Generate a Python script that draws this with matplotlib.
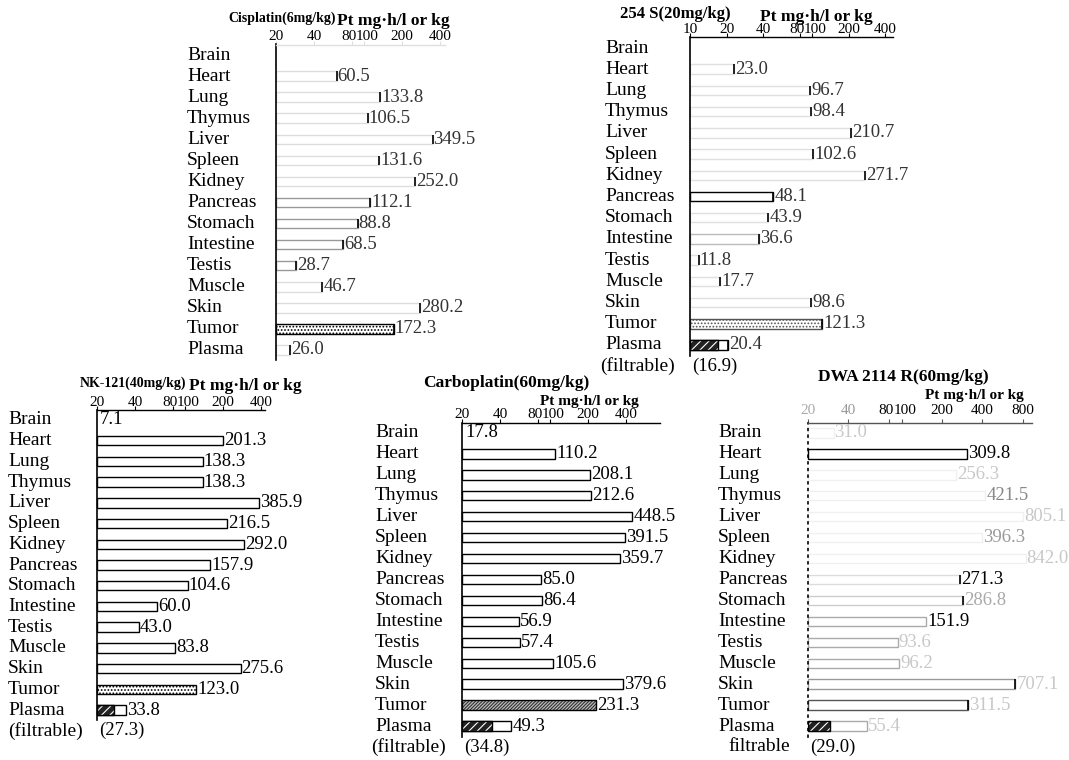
import numpy as np
import matplotlib
matplotlib.use("Agg")
import matplotlib.pyplot as plt

plt.rcParams['font.family'] = ['Liberation Serif', 'DejaVu Serif']
plt.rcParams['hatch.linewidth'] = 0.8

nan = np.nan

# ---- data: tissue Pt AUC (mg·h/l or kg) ----
organs = ["Brain", "Heart", "Lung", "Thymus", "Liver", "Spleen", "Kidney",
          "Pancreas", "Stomach", "Intestine", "Testis", "Muscle", "Skin",
          "Tumor", "Plasma"]

cisplatin_auc = [nan, 60.5, 133.8, 106.5, 349.5, 131.6, 252.0, 112.1, 88.8,
                 68.5, 28.7, 46.7, 280.2, 172.3, 26.0]
cisplatin_filtrable = nan

s254_auc = [nan, 23.0, 96.7, 98.4, 210.7, 102.6, 271.7, 48.1, 43.9,
            36.6, 11.8, 17.7, 98.6, 121.3, 20.4]
s254_filtrable = 16.9

nk121_auc = [7.1, 201.3, 138.3, 138.3, 385.9, 216.5, 292.0, 157.9, 104.6,
             60.0, 43.0, 83.8, 275.6, 123.0, 33.8]
nk121_filtrable = 27.3

carboplatin_auc = [17.8, 110.2, 208.1, 212.6, 448.5, 391.5, 359.7, 85.0, 86.4,
                   56.9, 57.4, 105.6, 379.6, 231.3, 49.3]
carboplatin_filtrable = 34.8

dwa_auc = [31.0, 309.8, 256.3, 421.5, 805.1, 396.3, 842.0, 271.3, 286.8,
           151.9, 93.6, 96.2, 707.1, 311.5, 55.4]
dwa_filtrable = 29.0

ticks_20_400 = [20, 40, 80, 100, 200, 400]
ticks_10_400 = [10, 20, 40, 80, 100, 200, 400]
ticks_20_800 = [20, 40, 80, 100, 200, 400, 800]

titles = ["Cisplatin(6mg/kg)", "254 S(20mg/kg)", "NK-121(40mg/kg)",
          "Carboplatin(60mg/kg)", "DWA 2114 R(60mg/kg)"]
unit_label = "Pt mg·h/l or kg"

# ---- layout / style per panel (pixel geometry on a 1069x760 canvas) ----
W, H = 1069, 760
panels = [
    dict(vals=cisplatin_auc, filt=cisplatin_filtrable, ticks=ticks_20_400,
         title=titles[0], title_xy=(228, 18), title_fs=10,
         unit_xy=(337, 21), unit_fs=12.5,
         left=276, right=445, top=44.5, bottom=360.5, xmin=20, ppd=126,
         lab_dx=-89, filt_lab=None, top_spine='#e0e0e0', left_style='-',
         bar_color='#dddddd',
         row_bar={'Tumor': 'black', 'Testis': '#999', 'Intestine': '#999',
                  'Stomach': '#999', 'Pancreas': '#999'},
         caps=set(organs), val_color='#333', row_val={},
         tumor_hatch='.....', tick_dy=1, tick_col={}),
    dict(vals=s254_auc, filt=s254_filtrable, ticks=ticks_10_400,
         title=titles[1], title_xy=(620, 14), title_fs=12,
         unit_xy=(760, 17), unit_fs=12.5,
         left=690, right=893, top=37.4, bottom=355.6, xmin=10, ppd=122,
         lab_dx=-85, filt_lab="(filtrable)", filt_lab_dx=-90,
         top_spine='black', left_style='-',
         bar_color='#e0e0e0',
         row_bar={'Pancreas': 'black', 'Tumor': '#555', 'Plasma': 'black',
                  'Intestine': '#bbb'},
         caps=set(organs), val_color='#333', row_val={},
         tumor_hatch='.....', tick_dy=1, tick_col={}),
    dict(vals=nk121_auc, filt=nk121_filtrable, ticks=ticks_20_400,
         title=titles[2], title_xy=(80, 383), title_fs=10,
         unit_xy=(189, 386), unit_fs=12.5,
         left=97, right=265, top=409.6, bottom=720.4, xmin=20, ppd=126,
         lab_dx=-89, filt_lab="(filtrable)", filt_lab_dx=-89,
         top_spine='black', left_style='-',
         bar_color='black', row_bar={}, caps=set(),
         val_color='black', row_val={}, tumor_hatch='.....', tick_dy=1,
         tick_col={}),
    dict(vals=carboplatin_auc, filt=carboplatin_filtrable, ticks=ticks_20_400,
         title=titles[3], title_xy=(423, 383), title_fs=12.5,
         unit_xy=(540, 401), unit_fs=11,
         left=462, right=660, top=422.5, bottom=736.5, xmin=20, ppd=126,
         lab_dx=-87, filt_lab="(filtrable)", filt_lab_dx=-91,
         top_spine='black', left_style='-',
         bar_color='black', row_bar={}, caps=set(),
         val_color='black', row_val={}, tumor_hatch='//////////', tick_dy=1,
         tick_col={}),
    dict(vals=dwa_auc, filt=dwa_filtrable, ticks=ticks_20_800,
         title=titles[4], title_xy=(818, 377), title_fs=12.5,
         unit_xy=(925, 395), unit_fs=11,
         left=808, right=1032, top=422.5, bottom=736.5, xmin=20, ppd=134,
         lab_dx=-90, filt_lab="filtrable", filt_lab_dx=-80,
         top_spine='#555', left_style=(0, (1, 3)),
         bar_color='#f0f0f0',
         row_bar={'Heart': 'black', 'Intestine': '#aaa', 'Testis': '#aaa',
                  'Muscle': '#aaa', 'Skin': '#999', 'Tumor': '#555',
                  'Plasma': '#aaa', 'Pancreas': '#ddd', 'Stomach': '#ccc'},
         caps={'Pancreas', 'Stomach', 'Skin', 'Tumor'},
         val_color='#c8c8c8',
         row_val={'Heart': 'black', 'Pancreas': 'black', 'Intestine': 'black',
                  'Thymus': '#888', 'Spleen': '#999', 'Stomach': '#aaa'},
         tumor_hatch='', tick_dy=5, tick_col={20: '#aaa', 40: '#999'}),
]

LABEL_FS = 14
VALUE_FS = 13.5
TICK_FS = 11
BAR_H = 0.45

fig = plt.figure(figsize=(W / 100, H / 100), dpi=100)
fig.patch.set_facecolor('white')


def px(x, y):
    return x / W, 1 - y / H


for p in panels:
    rect = [p['left'] / W, 1 - p['bottom'] / H,
            (p['right'] - p['left']) / W, (p['bottom'] - p['top']) / H]
    ax = fig.add_axes(rect)
    ax.set_xscale('log')
    xmin = p['xmin']
    xmax = xmin * 10 ** ((p['right'] - p['left']) / p['ppd'])
    ax.set_xlim(xmin, xmax)
    n = len(organs)
    ax.set_ylim(n - 0.5, -0.5)
    ax.set_facecolor('none')

    for s in ('right', 'bottom'):
        ax.spines[s].set_visible(False)
    ax.spines['top'].set_color(p['top_spine'])
    ax.spines['top'].set_linewidth(1.0)
    ax.spines['left'].set_linewidth(1.2)
    ax.spines['left'].set_linestyle(p['left_style'])

    ax.set_yticks([])
    ax.set_xticks(p['ticks'])
    ax.minorticks_off()
    ax.tick_params(axis='x', top=True, bottom=False, labeltop=False,
                   labelbottom=False, direction='out', length=3, width=0.8,
                   color=p['top_spine'])

    # tick numbers (80 / 100 nudged apart so they read clearly)
    for t in p['ticks']:
        dx = {80: -3, 100: 3}.get(t, 0)
        ax.annotate(str(t), xy=(t, 1), xycoords=('data', 'axes fraction'),
                    xytext=(dx, p['tick_dy']), textcoords='offset pixels',
                    ha='center', va='bottom', fontsize=TICK_FS,
                    color=p['tick_col'].get(t, 'black'),
                    annotation_clip=False)

    vals = p['vals']
    for i, (organ, v) in enumerate(zip(organs, vals)):
        # category label
        ax.annotate(organ, xy=(0, i), xycoords=('axes fraction', 'data'),
                    xytext=(p['lab_dx'], 0), textcoords='offset pixels',
                    ha='left', va='center', fontsize=LABEL_FS,
                    annotation_clip=False)
        if np.isnan(v):
            continue
        vcol = p['row_val'].get(organ, p['val_color'])
        if v <= xmin:
            ax.annotate(f"{v:.1f}", xy=(xmin, i), xytext=(3, 0),
                        textcoords='offset pixels', ha='left', va='center',
                        fontsize=VALUE_FS, color=vcol, annotation_clip=False)
            continue
        ec = p['row_bar'].get(organ, p['bar_color'])
        hatch = p['tumor_hatch'] if organ == 'Tumor' else None
        if organ == 'Tumor' and hatch and hatch.startswith('/'):
            ax.barh(i, v - xmin, left=xmin, height=BAR_H, facecolor='#bbbbbb',
                    edgecolor='#333', linewidth=0, hatch=hatch)
            ax.barh(i, v - xmin, left=xmin, height=BAR_H, facecolor='none',
                    edgecolor=ec, linewidth=1.0)
        else:
            ax.barh(i, v - xmin, left=xmin, height=BAR_H, facecolor='white',
                    edgecolor=ec, linewidth=1.0, hatch=hatch, clip_on=False)
        if organ in p['caps']:
            ax.vlines(v, i - BAR_H / 2, i + BAR_H / 2, color='black',
                      linewidth=1.2, clip_on=False)
        if organ == 'Plasma' and not np.isnan(p['filt']):
            f = p['filt']
            ax.barh(i, f - xmin, left=xmin, height=BAR_H, facecolor='#222',
                    edgecolor='white', linewidth=0, hatch='////')
            ax.barh(i, f - xmin, left=xmin, height=BAR_H, facecolor='none',
                    edgecolor='black', linewidth=1.0)
        ax.annotate(f"{v:.1f}", xy=(v, i), xytext=(1, 0),
                    textcoords='offset pixels', ha='left', va='center',
                    fontsize=VALUE_FS, color=vcol, annotation_clip=False)

    # filtrable plasma value below the plasma row
    if not np.isnan(p['filt']):
        ax.annotate(f"({p['filt']:.1f})", xy=(xmin, n), xytext=(2, 0),
                    textcoords='offset pixels', ha='left', va='center',
                    fontsize=VALUE_FS, annotation_clip=False)
        ax.annotate(p['filt_lab'], xy=(0, n), xycoords=('axes fraction', 'data'),
                    xytext=(p['filt_lab_dx'], 0), textcoords='offset pixels',
                    ha='left', va='center', fontsize=LABEL_FS,
                    annotation_clip=False)

    tx, ty = px(*p['title_xy'])
    fig.text(tx, ty, p['title'], ha='left', va='center',
             fontsize=p['title_fs'], fontweight='bold')
    ux, uy = px(*p['unit_xy'])
    fig.text(ux, uy, unit_label, ha='left', va='center',
             fontsize=p['unit_fs'], fontweight='bold')

fig.savefig('out.png', dpi=100, facecolor='white')
